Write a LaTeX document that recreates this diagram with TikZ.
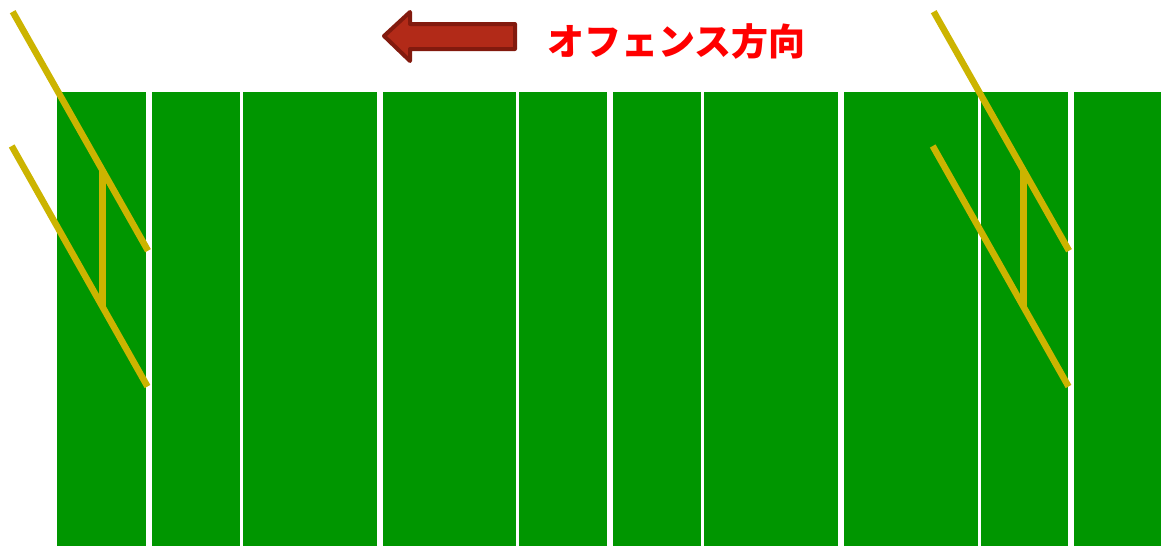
\documentclass[tikz,border=0pt]{standalone}
\usepackage{fontspec}
\newfontfamily\cjk{Noto Sans CJK JP}
\definecolor{field}{RGB}{0,150,0}
\definecolor{post}{RGB}{204,180,0}
\definecolor{arrowfill}{RGB}{178,42,24}
\definecolor{arrowline}{RGB}{130,26,14}
\definecolor{textred}{RGB}{255,0,0}
\tikzset{
  stripe/.style={fill=field},
  postline/.style={draw=post, line width=6.5pt},
  dirarrow/.style={fill=arrowfill, draw=arrowline, line width=4pt, line join=round},
  dirtext/.style={text=textred, font=\cjk\bfseries\fontsize{37}{44}\selectfont, inner sep=0pt, anchor=west}
}
\begin{document}
\begin{tikzpicture}[x=1pt,y=-1pt]
\useasboundingbox (0,0) rectangle (1161,546);
% field stripes
\foreach \a/\b in {57/146,152/240,243/377,383/516,519/607,613/701,704/838,844/978,981/1068,1074/1161}{
  \fill[stripe] (\a,92) rectangle (\b,546);
}
% goal posts
\foreach \dx in {0,921}{
  \draw[postline] (12.7+\dx,11.7) -- (148+\dx,250.7);
  \draw[postline] (11.7+\dx,146) -- (147.5+\dx,386.5);
  \draw[postline] (102.7+\dx,171) -- (102.7+\dx,306.7);
}
% direction arrow
\draw[dirarrow] (384,36) -- (410,12) -- (410,24) -- (515,24) -- (515,49) -- (410,49) -- (410,61) -- cycle;
\node[dirtext] (dir) at (547,41) {オフェンス方向};
\end{tikzpicture}
\end{document}
